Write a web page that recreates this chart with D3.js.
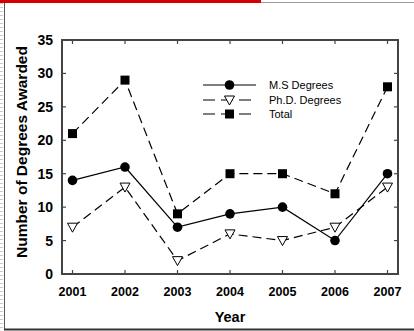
<!DOCTYPE html>
<html lang="en">
  <head>
    <meta charset="UTF-8" />
    <title>Degrees Awarded</title>
    <script src="https://d3js.org/d3.v7.min.js"></script>
    <style>
      body { margin: 0; background: #fff; }
      text { font-family: "Liberation Sans", Arial, sans-serif; }
    </style>
  </head>
  <body>
    <svg width="414" height="331"></svg>

    <script>
      const years = [2001, 2002, 2003, 2004, 2005, 2006, 2007];
      const msDegrees = [14, 16, 7, 9, 10, 5, 15];
      const phdDegrees = [7, 13, 2, 6, 5, 7, 13];
      const totalDegrees = [21, 29, 9, 15, 15, 12, 28];
      const yTicks = [0, 5, 10, 15, 20, 25, 30, 35];
      const seriesNames = ["M.S Degrees", "Ph.D. Degrees", "Total"];

      const svg = d3.select("svg");

      // page decoration around the figure
      svg.append("rect").attr("x", 0).attr("y", 0).attr("width", 261).attr("height", 3).attr("fill", "#d40000");
      svg.append("line").attr("x1", 261).attr("x2", 414).attr("y1", 2.5).attr("y2", 2.5)
        .attr("stroke", "#999").attr("stroke-width", 1);
      svg.append("line").attr("x1", 1.5).attr("x2", 1.5).attr("y1", 3).attr("y2", 329)
        .attr("stroke", "#ccc").attr("stroke-width", 3).attr("stroke-dasharray", "1,3");
      svg.append("line").attr("x1", 4.5).attr("x2", 4.5).attr("y1", 3).attr("y2", 330)
        .attr("stroke", "#555").attr("stroke-width", 1);
      svg.append("line").attr("x1", 4).attr("x2", 414).attr("y1", 329.5).attr("y2", 329.5)
        .attr("stroke", "#333").attr("stroke-width", 2);

      const m = { left: 62, right: 398, top: 40, bottom: 274 };

      const x = d3.scaleLinear().domain([2000.8, 2007.2]).range([m.left, m.right]);
      const y = d3.scaleLinear().domain([0, 35]).range([m.bottom, m.top]);

      const frameColor = "#444";

      // ticks (inward) on all four sides
      const g = svg.append("g");
      years.forEach((yr) => {
        g.append("line").attr("x1", x(yr)).attr("x2", x(yr)).attr("y1", m.bottom).attr("y2", m.bottom - 4)
          .attr("stroke", frameColor).attr("stroke-width", 1.2);
        g.append("line").attr("x1", x(yr)).attr("x2", x(yr)).attr("y1", m.top).attr("y2", m.top + 4)
          .attr("stroke", frameColor).attr("stroke-width", 1.2);
        g.append("text").attr("x", x(yr)).attr("y", m.bottom + 22).attr("text-anchor", "middle")
          .attr("font-size", 12.5).attr("font-weight", "bold").text(yr);
      });
      yTicks.forEach((t) => {
        g.append("line").attr("x1", m.left).attr("x2", m.left + 4).attr("y1", y(t)).attr("y2", y(t))
          .attr("stroke", frameColor).attr("stroke-width", 1.2);
        g.append("line").attr("x1", m.right).attr("x2", m.right - 4).attr("y1", y(t)).attr("y2", y(t))
          .attr("stroke", frameColor).attr("stroke-width", 1.2);
        g.append("text").attr("x", 53).attr("y", y(t)).attr("dy", "0.36em").attr("text-anchor", "end")
          .attr("font-size", 14).attr("font-weight", "bold").text(t);
      });

      g.append("rect").attr("x", m.left).attr("y", m.top).attr("width", m.right - m.left).attr("height", m.bottom - m.top)
        .attr("fill", "none").attr("stroke", frameColor).attr("stroke-width", 2);

      // axis titles
      svg.append("text").attr("x", 230).attr("y", 322).attr("text-anchor", "middle")
        .attr("font-size", 14.5).attr("font-weight", "bold").text("Year");
      svg.append("text").attr("transform", "translate(22,152) rotate(-90)")
        .attr("dy", "0.35em").attr("text-anchor", "middle")
        .attr("font-size", 15.5).attr("font-weight", "bold").text("Number of Degrees Awarded");

      const series = [
        { name: seriesNames[0], values: msDegrees, dash: null, marker: "circle" },
        { name: seriesNames[1], values: phdDegrees, dash: "9,5", marker: "triangle" },
        { name: seriesNames[2], values: totalDegrees, dash: "9,5", marker: "square" },
      ];

      const line = d3.line().x((d, i) => x(years[i])).y((d) => y(d));

      function drawMarker(sel, type, cx, cy) {
        if (type === "circle") {
          sel.append("circle").attr("cx", cx).attr("cy", cy).attr("r", 4.8).attr("fill", "#000");
        } else if (type === "square") {
          sel.append("rect").attr("x", cx - 4.5).attr("y", cy - 4.5).attr("width", 9).attr("height", 9).attr("fill", "#000");
        } else {
          sel.append("path")
            .attr("d", `M${cx - 5},${cy - 4}L${cx + 5},${cy - 4}L${cx},${cy + 5}Z`)
            .attr("fill", "#fff").attr("stroke", "#000").attr("stroke-width", 1);
        }
      }

      series.forEach((s) => {
        svg.append("path").datum(s.values).attr("d", line).attr("fill", "none")
          .attr("stroke", "#000").attr("stroke-width", 1.2)
          .attr("stroke-dasharray", s.dash);
      });
      series.forEach((s) => {
        const mg = svg.append("g");
        s.values.forEach((v, i) => drawMarker(mg, s.marker, x(years[i]), y(v)));
      });

      // legend
      const legendY = [85, 100, 114];
      series.forEach((s, i) => {
        const lg = svg.append("g");
        lg.append("line").attr("x1", 203).attr("x2", 256).attr("y1", legendY[i]).attr("y2", legendY[i])
          .attr("stroke", "#000").attr("stroke-width", 1.2).attr("stroke-dasharray", s.dash ? "12,6" : null);
        drawMarker(lg, s.marker, 229.5, legendY[i]);
        lg.append("text").attr("x", 269).attr("y", legendY[i]).attr("dy", "0.35em")
          .attr("font-size", 11).text(s.name);
      });
    </script>
  </body>
</html>
